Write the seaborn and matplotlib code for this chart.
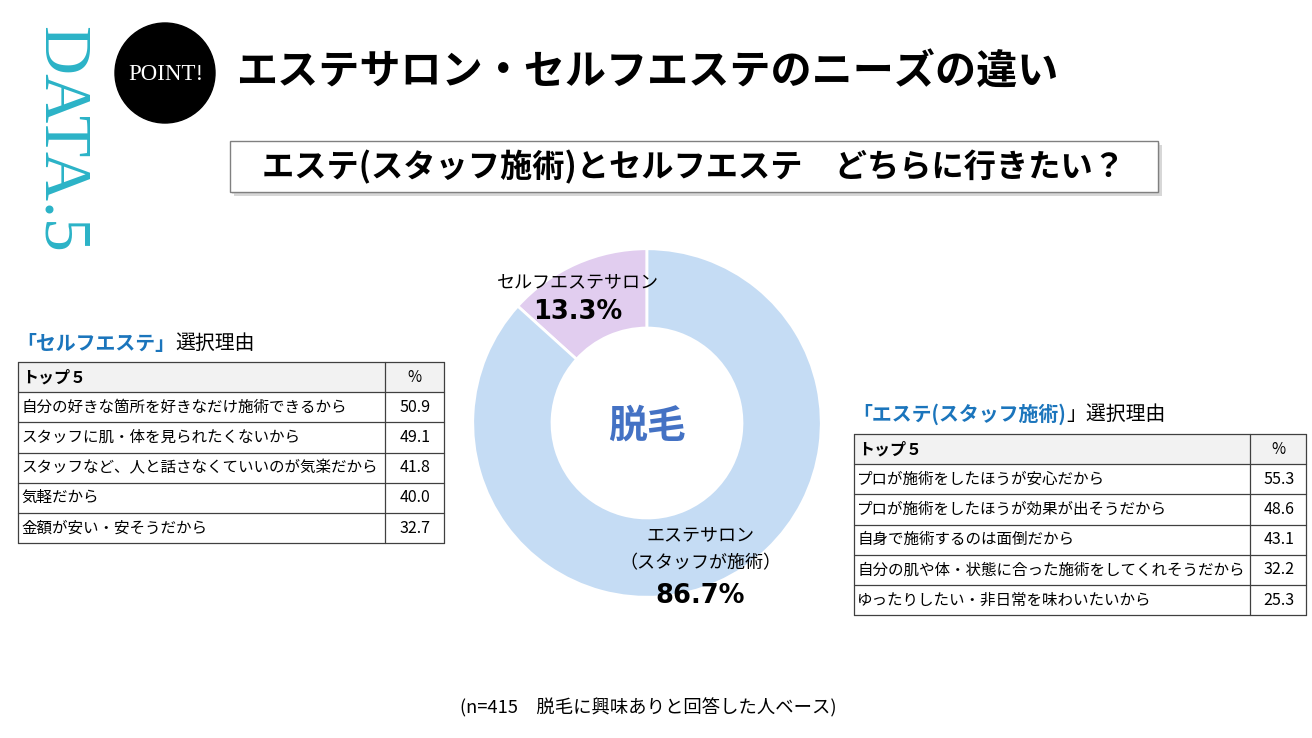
import matplotlib
matplotlib.use("Agg")
import matplotlib.pyplot as plt
import matplotlib.patches as mpatches
import seaborn as sns

# データ
pie_labels = ["セルフエステサロン", "エステサロン\n（スタッフが施術）"]
pie_values = [13.3, 86.7]
pie_colors = ["#E1CDEF", "#C5DCF4"]

self_reasons = [
    "自分の好きな箇所を好きなだけ施術できるから",
    "スタッフに肌・体を見られたくないから",
    "スタッフなど、人と話さなくていいのが気楽だから",
    "気軽だから",
    "金額が安い・安そうだから",
]
self_pct = [50.9, 49.1, 41.8, 40.0, 32.7]

staff_reasons = [
    "プロが施術をしたほうが安心だから",
    "プロが施術をしたほうが効果が出そうだから",
    "自身で施術するのは面倒だから",
    "自分の肌や体・状態に合った施術をしてくれそうだから",
    "ゆったりしたい・非日常を味わいたいから",
]
staff_pct = [55.3, 48.6, 43.1, 32.2, 25.3]

sns.set_theme(style="white")
plt.rcParams['font.family'] = ['Noto Sans CJK JP', 'DejaVu Sans']
plt.rcParams['text.color'] = 'black'

W, H = 1312, 738
fig = plt.figure(figsize=(W / 100, H / 100), dpi=100)
fig.patch.set_facecolor("white")

# ドーナツ
cx, cy, r = 647, 423, 176
pie_ax = fig.add_axes([(cx - r) / W, (H - cy - r) / H, 2 * r / W, 2 * r / H])
pie_ax.pie(pie_values, colors=pie_colors, startangle=90, counterclock=True,
           wedgeprops=dict(width=0.455, edgecolor="white", linewidth=2))
pie_ax.set_xlim(-1.01, 1.01)
pie_ax.set_ylim(-1.01, 1.01)
pie_ax.set_aspect("equal")
pie_ax.axis("off")
pie_ax.set_zorder(1)

# 背景用の軸 (ピクセル座標)、ドーナツの上に重ねる
bg = fig.add_axes([0, 0, 1, 1])
bg.set_xlim(0, W)
bg.set_ylim(H, 0)
bg.axis("off")
bg.patch.set_alpha(0)
bg.set_zorder(2)

# DATA.5
bg.text(60, 139, "DATA.5", rotation=-90, ha="center", va="center",
        fontsize=49, color="#2BB3C7", family=["Liberation Serif"])

# POINT! マーク
bg.add_patch(mpatches.Circle((165, 73), 50, color="black"))
bg.text(166, 74, "POINT!", ha="center", va="center", fontsize=16.5,
        color="white", family=["Liberation Serif"])

# タイトル
bg.text(236, 73, "エステサロン・セルフエステのニーズの違い", ha="left", va="center",
        fontsize=29.6, fontweight="bold")

# サブタイトルの枠
bg.add_patch(mpatches.Rectangle((234, 145), 928, 51, color="#B0B0B0", alpha=0.5, lw=0))
bg.add_patch(mpatches.Rectangle((232, 143), 928, 51, color="#D0D0D0", alpha=0.6, lw=0))
bg.add_patch(mpatches.Rectangle((230, 141), 928, 51, facecolor="white",
                                edgecolor="#808080", lw=1))
bg.text(694, 167, "エステ(スタッフ施術)とセルフエステ　どちらに行きたい？",
        ha="center", va="center", fontsize=23.2, fontweight="bold")

bg.text(cx, cy + 3, "脱毛", ha="center", va="center", fontsize=28,
        fontweight="bold", color="#4472C4")

# ドーナツのラベル
bg.text(578, 282, pie_labels[0], ha="center", va="center", fontsize=13)
bg.text(578, 312, f"{pie_values[0]}%", ha="center", va="center",
        fontsize=18.5, fontweight="bold", family=["DejaVu Sans"])
bg.text(700, 549, pie_labels[1], ha="center", va="center", fontsize=13,
        linespacing=1.75)
bg.text(700, 596, f"{pie_values[1]}%", ha="center", va="center",
        fontsize=18.5, fontweight="bold", family=["DejaVu Sans"])


def draw_table(x0, x1, xs, y0, row_h, title_blue, title_black, reasons, pcts, title_y):
    t1 = bg.text(x0 - 2, title_y, title_blue, ha="left", va="center",
                 fontsize=14.3, fontweight="bold", color="#1B75BC")
    bg.annotate(title_black, xy=(1, 0.5), xycoords=t1, ha="left", va="center",
                fontsize=14.3, color="black")
    n = len(reasons) + 1
    y_end = y0 + n * row_h
    bg.add_patch(mpatches.Rectangle((x0, y0), x1 - x0, row_h, facecolor="#F2F2F2",
                                    edgecolor="none"))
    for i in range(n + 1):
        bg.plot([x0, x1], [y0 + i * row_h] * 2, color="#404040", lw=0.9)
    for x in (x0, xs, x1):
        bg.plot([x, x], [y0, y_end], color="#404040", lw=0.9)
    bg.text(x0 + 4, y0 + row_h / 2, "トップ５", ha="left", va="center",
            fontsize=11.5, fontweight="bold")
    bg.text((xs + x1) / 2, y0 + row_h / 2, "%", ha="center", va="center", fontsize=11)
    for i, (reason, p) in enumerate(zip(reasons, pcts)):
        yc = y0 + (i + 1.5) * row_h
        bg.text(x0 + 3, yc, reason, ha="left", va="center", fontsize=11.2)
        bg.text((xs + x1) / 2 + 1, yc, f"{p:.1f}", ha="center", va="center",
                fontsize=11.5)


draw_table(18, 444, 385, 362, 30.2, "「セルフエステ」", "選択理由",
           self_reasons, self_pct, 343)
draw_table(854, 1306, 1250, 434, 30.2, "「エステ(スタッフ施術)", "」選択理由",
           staff_reasons, staff_pct, 414)

# 注釈
bg.text(648, 708, "(n=415　脱毛に興味ありと回答した人ベース)", ha="center",
        va="center", fontsize=13.2)

fig.savefig("out.png", dpi=100, facecolor="white")
